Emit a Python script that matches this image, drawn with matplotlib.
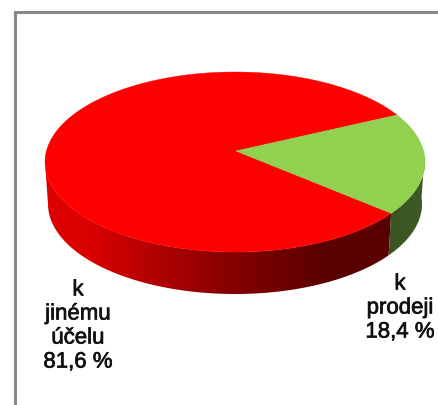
import numpy as np
import matplotlib
matplotlib.use('Agg')
import matplotlib.pyplot as plt
import matplotlib.patheffects as pe
from matplotlib.patches import Polygon

plt.rcParams['font.family'] = ['Liberation Sans', 'DejaVu Sans']

labels = ['k\njinému\núčelu\n81,6 %', 'k\nprodeji\n18,4 %']
shares = [81.6, 18.4]
colors = ['#ff0000', '#92d050']

# pie geometry in pixels of the picture
cx, cy = 235, 162
rx, ry = 190, 90
rx_low = 187   # lower rim is a bit narrower, the original has perspective
apex = (236, 151)
depth = 42
start = 31.5   # where the green slice begins, degrees

def rim(a1, a2, n=200):
    t = np.radians(np.linspace(a1, a2, n))
    return cx + rx * np.cos(t), cy - ry * np.sin(t)

def rim_low(a1, a2, n=200):
    t = np.radians(np.linspace(a1, a2, n))
    return cx + rx_low * np.cos(t), cy + depth - ry * np.sin(t)

fig = plt.figure(figsize=(4.38, 4.05), dpi=100)
ax = fig.add_axes([0, 0, 1, 1])
ax.set_xlim(0, 438)
ax.set_ylim(405, 0)
ax.axis('off')

# frame
ax.plot([14.5, 14.5, 438], [405, 11.5, 11.5], color='#888888', lw=2.2, solid_joinstyle='miter')

green_span = shares[1] / sum(shares) * 360
green_a1 = start - green_span

# sides: only the front half of the rim shows
def side(a1, a2, shades, x_stops):
    x, y = rim(a1, a2)
    xl, yl = rim_low(a1, a2)
    pts = np.vstack([np.c_[x, y], np.c_[xl[::-1], yl[::-1]]])
    patch = Polygon(pts, closed=True, fc='none', ec='none')
    ax.add_patch(patch)
    x0, x1 = pts[:, 0].min(), pts[:, 0].max()
    y0, y1 = pts[:, 1].min(), pts[:, 1].max()
    xx = np.linspace(x0, x1, 300)
    rgb = np.array([np.interp(xx, x_stops, [c[i] for c in shades]) for i in range(3)]).T
    im = ax.imshow(rgb[np.newaxis, :, :], extent=[x0, x1, y1, y0], aspect='auto', interpolation='bilinear')
    im.set_clip_path(patch)

side(-180, green_a1, [(0.87, 0, 0), (0.87, 0, 0), (0.55, 0, 0), (0.36, 0, 0), (0.36, 0, 0)], [45, 80, 219, 320, 390])
side(green_a1, 4, [(0.22, 0.33, 0.13), (0.25, 0.36, 0.14)], [387, 425])
ax.set_xlim(0, 438)
ax.set_ylim(405, 0)

# top face
x, y = rim(start, start + 360 - green_span)
ax.add_patch(Polygon(np.vstack([[apex], np.c_[x, y]]), closed=True, fc=colors[0], ec=colors[0], lw=0.3))
x, y = rim(green_a1, start)
ax.add_patch(Polygon(np.vstack([[apex], np.c_[x, y]]), closed=True, fc=colors[1], ec=colors[1], lw=0.3))

# the original text looks heavier than regular weight
heavy = [pe.withStroke(linewidth=0.5, foreground='#111111')]
ax.text(78, 326, labels[0], ha='center', va='center', fontsize=16, color='#111111',
        linespacing=1.19, path_effects=heavy)
ax.text(400, 308, labels[1], ha='center', va='center', fontsize=16, color='#111111',
        linespacing=1.19, path_effects=heavy)

fig.savefig('out.png', dpi=100)
